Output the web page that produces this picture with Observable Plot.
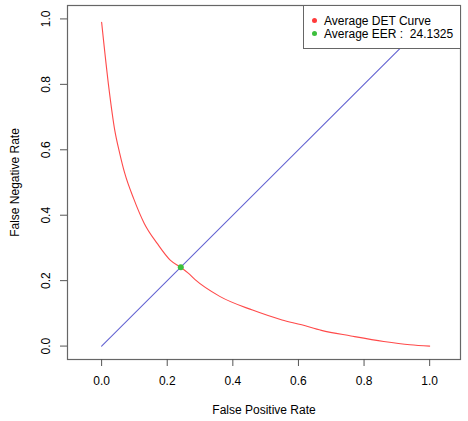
<!DOCTYPE html>
<html>
<head>
<meta charset="utf-8">
<script src="https://cdn.jsdelivr.net/npm/d3@7"></script>
<script src="https://cdn.jsdelivr.net/npm/@observablehq/plot@0.6"></script>
<style>
  html, body { margin: 0; padding: 0; background: #fff; }
  #wrap { position: relative; width: 468px; height: 421px; font-family: "Liberation Sans", Arial, Helvetica, sans-serif; }
  #legend { position: absolute; left: 303px; top: 5px; width: 158px; height: 44px; border: 1px solid #666; background: #fff; font-size: 12px; color: #000; box-sizing: border-box; }
  .item { position: absolute; left: 8px; white-space: pre; line-height: 12px; height: 12px; }
  .sw { display: inline-block; width: 5px; height: 5px; border-radius: 50%; margin-right: 7px; vertical-align: 2px; }
</style>
</head>
<body>
<div id="wrap"><div id="legend"></div></div>
<script>
// Average DET curve (false positive rate vs false negative rate)
const fpr = [0, 0.022, 0.04, 0.055, 0.07, 0.098, 0.13, 0.17, 0.21, 0.241, 0.265, 0.285, 0.36, 0.46, 0.55, 0.61, 0.67, 0.76, 0.86, 0.94, 1.0];
const fnr = [0.99, 0.79, 0.66, 0.59, 0.53, 0.45, 0.375, 0.313, 0.262, 0.241, 0.222, 0.203, 0.152, 0.11, 0.08, 0.065, 0.048, 0.031, 0.014, 0.004, 0.0];
// Equal error rate point
const eerValue = 0.241325;
// Diagonal reference line
const diagX = [0, 1];
const diagY = [0, 1];
// Ticks
const xTicks = [0, 0.2, 0.4, 0.6, 0.8, 1.0];
const yTicks = [0, 0.2, 0.4, 0.6, 0.8, 1.0];
// Legend
const legendLabels = ["Average DET Curve", "Average EER :  24.1325"];
const legendColors = ["#ff3b3b", "#3cbf3c"];

const curve = fpr.map((x, i) => ({x, y: fnr[i]}));
const diag = diagX.map((x, i) => ({x, y: diagY[i]}));
const eer = [{x: eerValue, y: eerValue}];
const fmt = d3.format(".1f");

const chart = Plot.plot({
  width: 468,
  height: 421,
  marginLeft: 67,
  marginRight: 8,
  marginTop: 5,
  marginBottom: 62,
  x: {domain: [-0.104, 1.094]},
  y: {domain: [-0.041, 1.041]},
  style: {fontFamily: "'Liberation Sans', Arial, Helvetica, sans-serif", fontSize: "12px", color: "#000", background: "#fff"},
  marks: [
    Plot.frame({stroke: "#666", strokeWidth: 1.2}),
    Plot.axisX({ticks: xTicks, tickFormat: fmt, tickSize: 7, tickPadding: 10, stroke: "#555",
      label: "False Positive Rate", labelAnchor: "center", labelArrow: "none", labelOffset: 54}),
    Plot.axisY({ticks: yTicks, tickFormat: fmt, tickSize: 7, tickPadding: 11, tickRotate: -90, stroke: "#555",
      label: "False Negative Rate", labelAnchor: "center", labelArrow: "none", labelOffset: 57}),
    Plot.line(diag, {x: "x", y: "y", stroke: "#6464d2", strokeWidth: 1.1}),
    Plot.line(curve, {x: "x", y: "y", stroke: "#ff4a4a", strokeWidth: 1.1, curve: "monotone-x"}),
    Plot.dot(eer, {x: "x", y: "y", r: 3, fill: "#3cbf3c", stroke: "none"})
  ]
});
document.getElementById("wrap").prepend(chart);
chart.style.display = "block";

const legend = document.getElementById("legend");
legendLabels.forEach((lab, i) => {
  const d = document.createElement("div");
  d.className = "item";
  d.style.top = (9 + i * 13) + "px";
  const sw = document.createElement("span");
  sw.className = "sw";
  sw.style.background = legendColors[i];
  d.appendChild(sw);
  d.appendChild(document.createTextNode(lab));
  legend.appendChild(d);
});
</script>
</body>
</html>
